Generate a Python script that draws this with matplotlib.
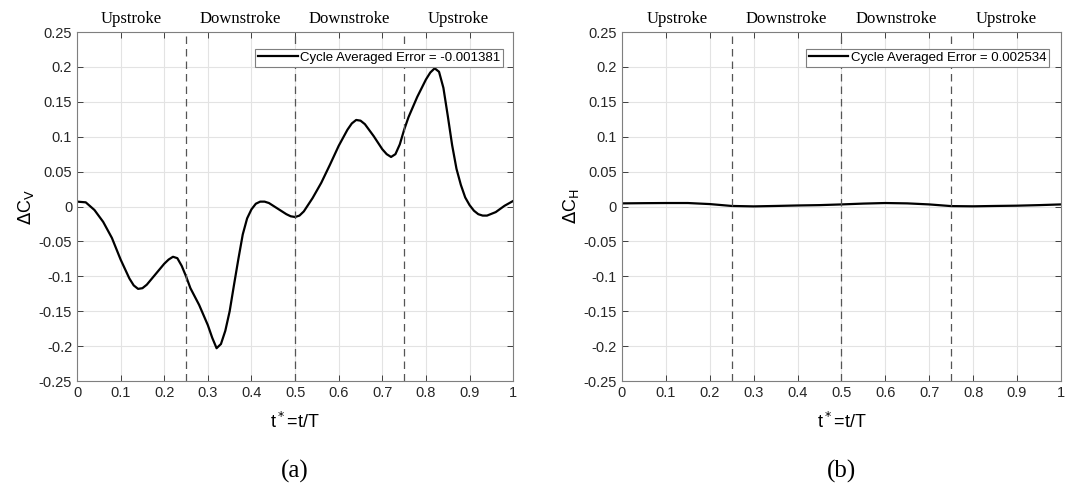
import numpy as np
import matplotlib.pyplot as plt

# time samples (t* = t/T) and values
t_a = [0, 0.02, 0.04, 0.06, 0.08, 0.10, 0.12, 0.13, 0.14, 0.15, 0.16, 0.18,
       0.20, 0.21, 0.22, 0.23, 0.24, 0.25, 0.26, 0.28, 0.30, 0.31, 0.32, 0.33,
       0.34, 0.35, 0.36, 0.37, 0.38, 0.39, 0.40, 0.41, 0.42, 0.43, 0.44, 0.46,
       0.48, 0.49, 0.50, 0.51, 0.52, 0.54, 0.56, 0.58, 0.60, 0.62, 0.63, 0.64,
       0.65, 0.66, 0.68, 0.70, 0.71, 0.72, 0.73, 0.74, 0.75, 0.76, 0.78, 0.80,
       0.81, 0.82, 0.83, 0.84, 0.85, 0.86, 0.87, 0.88, 0.89, 0.90, 0.91, 0.92,
       0.93, 0.94, 0.96, 0.98, 1.0]
dcv = [0.007, 0.006, -0.005, -0.022, -0.045, -0.076, -0.103, -0.113, -0.118,
       -0.117, -0.112, -0.097, -0.082, -0.076, -0.072, -0.074, -0.085, -0.100,
       -0.117, -0.141, -0.170, -0.188, -0.203, -0.197, -0.178, -0.150, -0.112,
       -0.075, -0.040, -0.017, -0.004, 0.004, 0.007, 0.007, 0.005, -0.003,
       -0.011, -0.014, -0.015, -0.013, -0.007, 0.012, 0.034, 0.060, 0.087,
       0.110, 0.119, 0.124, 0.123, 0.118, 0.101, 0.082, 0.075, 0.071, 0.075,
       0.089, 0.110, 0.128, 0.157, 0.182, 0.192, 0.198, 0.193, 0.170, 0.130,
       0.088, 0.054, 0.031, 0.013, 0.002, -0.006, -0.011, -0.013, -0.013,
       -0.008, 0.001, 0.008]

t_b = [0, 0.05, 0.10, 0.15, 0.20, 0.25, 0.30, 0.35, 0.40, 0.45, 0.50, 0.55,
       0.60, 0.65, 0.70, 0.75, 0.80, 0.85, 0.90, 0.95, 1.0]
dch = [0.0045, 0.0048, 0.005, 0.005, 0.0035, 0.0008, 0.0002, 0.0008, 0.0015,
       0.002, 0.003, 0.0042, 0.005, 0.0045, 0.003, 0.0006, 0.0003, 0.0008,
       0.0012, 0.002, 0.003]

err_a = -0.001381
err_b = 0.002534
strokes = ['Upstroke', 'Downstroke', 'Downstroke', 'Upstroke']
stroke_mid = [0.125, 0.375, 0.625, 0.875]
stroke_div = [0.25, 0.5, 0.75]

plt.rcParams['font.family'] = ['Liberation Sans', 'DejaVu Sans']

fig = plt.figure(figsize=(10.77, 4.94), dpi=100)
ax_a = fig.add_axes([0.0715, 0.2287, 0.405, 0.7065])
ax_b = fig.add_axes([0.5775, 0.2287, 0.4076, 0.7065])

panels = [(ax_a, t_a, dcv, err_a, r'$\Delta$C$_\mathrm{V}$', '(a)', 0.977),
          (ax_b, t_b, dch, err_b, r'$\Delta$C$_\mathrm{H}$', '(b)', 0.973)]

for ax, t, y, err, ylab, tag, leg_x in panels:
    ax.plot(t, y, color='black', lw=1.6,
            label=f'Cycle Averaged Error = {err:.6f}')
    for d in stroke_div:
        ax.axvline(d, color='#555555', lw=0.9, ls=(0, (6, 4)))
    ax.set_xlim(0, 1)
    ax.set_ylim(-0.25, 0.25)
    ax.set_xticks(np.arange(0, 1.01, 0.1))
    ax.set_xticklabels(['0', '0.1', '0.2', '0.3', '0.4', '0.5', '0.6',
                        '0.7', '0.8', '0.9', '1'])
    ax.set_yticks(np.arange(-0.25, 0.251, 0.05))
    ax.set_yticklabels(['-0.25', '-0.2', '-0.15', '-0.1', '-0.05', '0',
                        '0.05', '0.1', '0.15', '0.2', '0.25'])
    ax.grid(True, color='#e3e3e3', lw=0.8)
    ax.set_axisbelow(True)
    ax.tick_params(direction='in', top=True, right=True, labelsize=10.5,
                   colors='#262626', length=4, width=0.6)
    for sp in ax.spines.values():
        sp.set_color('#7f7f7f')
        sp.set_linewidth(0.8)
    ax.set_xlabel(r't$^*$=t/T', fontsize=13, labelpad=9)
    ax.set_ylabel(ylab, fontsize=13, labelpad=2)
    for lab, m in zip(strokes, stroke_mid):
        ax.text(m, 1.026, lab, transform=ax.get_xaxis_transform(),
                ha='center', va='baseline', family='Liberation Serif',
                fontsize=12)
    leg = ax.legend(loc='upper right', bbox_to_anchor=(leg_x, 0.951),
                    fontsize=9.5, fancybox=False, framealpha=1,
                    borderpad=0.2, handlelength=3.0, handletextpad=0.2,
                    borderaxespad=0)
    leg.get_frame().set_edgecolor('#7f7f7f')
    leg.get_frame().set_linewidth(0.8)
    ax.text(0.5, -0.26, tag, transform=ax.transAxes, ha='center',
            va='center', family='Liberation Serif', fontsize=18)

plt.savefig('out.png', dpi=100)
